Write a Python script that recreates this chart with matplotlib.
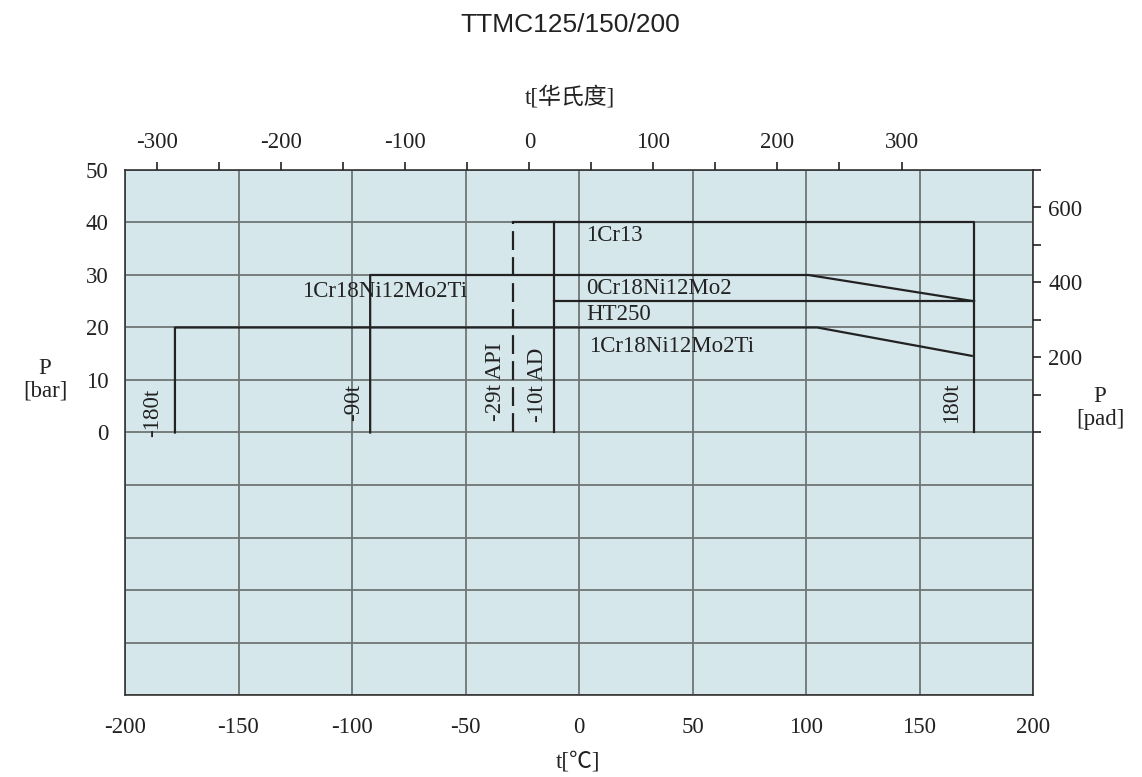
import matplotlib
matplotlib.use('Agg')
import matplotlib.pyplot as plt

plt.rcParams['font.family'] = ['Liberation Serif', 'Noto Sans CJK SC', 'DejaVu Sans']
plt.rcParams['axes.unicode_minus'] = False

# temperatures in degC, pressures in bar
api_x = [-29, -29]
api_y = [0, 40]
ad_x = [-11, -11]
ad_y = [0, 40]
cr13_x = [-29, 174, 174]
cr13_y = [40, 40, 0]
mo2_x = [-92, -92, 101, 174]
mo2_y = [0, 30, 30, 25]
ht250_x = [-11, 174]
ht250_y = [25, 25]
ti_x = [-178, -178, 105, 173]
ti_y = [0, 20, 20, 14.6]

labels = ['1Cr13', '1Cr18Ni12Mo2Ti', '0Cr18Ni12Mo2', 'HT250', '1Cr18Ni12Mo2Ti']
label_x = [3, -122, 3, 3, 4.5]
label_y = [37.5, 26.8, 27.4, 22.4, 16.3]

vlabels = ['-180t', '-90t', '-29t API', '-10t AD', '180t']
vlabel_x = [-187.7, -99.5, -37, -18.5, 164]
vlabel_y = [3.8, 5.8, 9.6, 9.0, 5.7]

bar_ticks = list(range(-50, 51, 10))
bar_labels = [str(v) if v >= 0 else '' for v in bar_ticks]
f_ticks = [-300, -200, -100, 0, 100, 200, 300]
f_minor = [-250, -150, -50, 50, 150, 250]
pad_ticks = list(range(0, 701, 100))
pad_labels = [str(v) if v in (200, 400, 600) else '' for v in pad_ticks]

txt = '#222222'
fig = plt.figure(figsize=(11.42, 7.77), dpi=100)
ax = fig.add_axes([125/1142, 1-695/777, 908/1142, 525/777])
ax.set_facecolor('#d5e7eb')
ax.set_xlim(-200, 200)
ax.set_ylim(-50, 50)
ax.set_xticks(range(-200, 201, 50))
ax.set_yticks(bar_ticks)
ax.set_yticklabels(bar_labels)
ax.tick_params(axis='both', length=0, labelsize=16.5, colors=txt)
ax.tick_params(axis='x', pad=16)
ax.tick_params(axis='y', pad=12)
ax.grid(True, color='#6f7575', lw=1.3)
ax.set_axisbelow(True)
for s in ax.spines.values():
    s.set_color('#333333')
    s.set_linewidth(1.2)

lw = 1.6
ax.plot(api_x, api_y, color=txt, lw=lw, dashes=(8.5, 3.2))
ax.plot(ad_x, ad_y, color=txt, lw=lw)
ax.plot(cr13_x, cr13_y, color=txt, lw=lw)
ax.plot(mo2_x, mo2_y, color=txt, lw=lw)
ax.plot(ht250_x, ht250_y, color=txt, lw=lw)
ax.plot(ti_x, ti_y, color=txt, lw=lw)

for s, x, y in zip(labels, label_x, label_y):
    ax.text(x, y, s, fontsize=16.5, color=txt, ha='left', va='center')
for s, x, y in zip(vlabels, vlabel_x, vlabel_y):
    ax.text(x, y, s, fontsize=16.5, color=txt, ha='center', va='center', rotation=90)

# Fahrenheit scale on top
axt = ax.twiny()
axt.set_xlim(-326, 406)
axt.set_xticks(f_ticks)
axt.set_xticks(f_minor, minor=True)
axt.tick_params(axis='x', which='both', direction='out', length=6, width=1.2,
                labelsize=16.5, colors=txt, pad=6)
axt.set_ylim(-50, 50)
for s in axt.spines.values():
    s.set_visible(False)

# pressure in pad on the right
axr = ax.twinx()
axr.set_ylim(-700, 700)
axr.set_yticks(pad_ticks)
axr.set_yticklabels(pad_labels)
axr.tick_params(axis='y', direction='out', length=6, width=1.2,
                labelsize=16.5, colors=txt, pad=5)
for s in axr.spines.values():
    s.set_visible(False)

fig.text(570/1142, 1-25/777, 'TTMC125/150/200', family='Liberation Sans',
         fontsize=19, color=txt, ha='center', va='center')
fig.text(570/1142, 1-97/777, 't[华氏度]', fontsize=16.5, color=txt, ha='center', va='center')
fig.text(578/1142, 1-762/777, 't[℃]', fontsize=16.5, color=txt, ha='center', va='center')
fig.text(45/1142, 1-380/777, 'P\n[bar]', fontsize=16.5, color=txt, ha='center', va='center',
         linespacing=1.1)
fig.text(1100/1142, 1-408/777, 'P\n[pad]', fontsize=16.5, color=txt, ha='center', va='center',
         linespacing=1.15)

fig.savefig('out.png', dpi=100)
